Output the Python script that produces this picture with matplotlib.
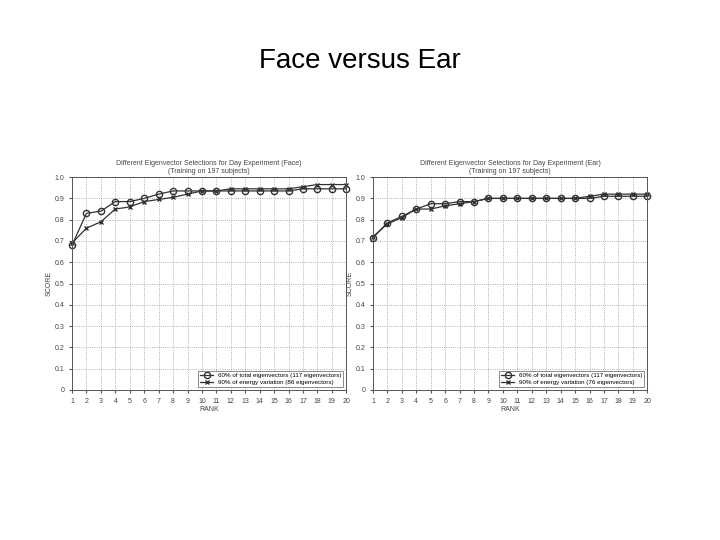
import matplotlib.pyplot as plt

plt.rcParams['font.family'] = ['Liberation Sans', 'DejaVu Sans']

rank = list(range(1, 21))

face_60 = [0.68, 0.83, 0.84, 0.885, 0.885, 0.90, 0.92, 0.935, 0.935, 0.935,
           0.935, 0.935, 0.935, 0.935, 0.935, 0.935, 0.945, 0.945, 0.945, 0.945]
face_90 = [0.69, 0.76, 0.79, 0.85, 0.86, 0.885, 0.895, 0.905, 0.92, 0.935,
           0.935, 0.945, 0.945, 0.945, 0.945, 0.945, 0.955, 0.965, 0.965, 0.965]
ear_60 = [0.715, 0.785, 0.815, 0.85, 0.875, 0.875, 0.885, 0.885, 0.90, 0.90,
          0.90, 0.90, 0.90, 0.90, 0.90, 0.90, 0.91, 0.91, 0.91, 0.91]
ear_90 = [0.72, 0.78, 0.81, 0.85, 0.85, 0.865, 0.875, 0.885, 0.90, 0.90,
          0.90, 0.90, 0.90, 0.90, 0.90, 0.91, 0.92, 0.92, 0.92, 0.92]

panels = [
    ("Face", face_60, face_90, "90% of energy variation (86 eigenvectors)", 0.100),
    ("Ear", ear_60, ear_90, "90% of energy variation (76 eigenvectors)", 0.518),
]

fig = plt.figure(figsize=(7.2, 5.4), dpi=100)
fig.text(0.5, 0.875, "Face versus Ear", ha="center", fontsize=20)

for name, s60, s90, lab90, left in panels:
    ax = fig.add_axes([left, 0.278, 0.381, 0.394])
    ax.plot(rank, s60, color="#333333", lw=0.9, marker="o", ms=4.5, mfc="none",
            label="60% of total eigenvectors (117 eigenvectors)", clip_on=False)
    ax.plot(rank, s90, color="#333333", lw=0.9, marker="x", ms=3.5,
            label=lab90, clip_on=False)
    ax.set_xlim(1, 20)
    ax.set_ylim(0, 1.0)
    ax.set_xticks(rank)
    ax.set_yticks([i / 10 for i in range(11)])
    ax.set_yticklabels(["0"] + [f"{i / 10:.1f}" for i in range(1, 11)])
    ax.tick_params(labelsize=5, length=2, color="#555555", labelcolor="#444444")
    ax.grid(True, linestyle=":", color="#999999", lw=0.6)
    ax.set_xlabel("RANK", fontsize=5, color="#444444", labelpad=1)
    ax.set_ylabel("SCORE", fontsize=5, color="#444444", labelpad=1)
    ax.set_title(f"Different Eigenvector Selections for Day Experiment ({name})\n"
                 "(Training on 197 subjects)", fontsize=5, color="#444444", pad=3)
    for sp in ax.spines.values():
        sp.set_color("#555555")
        sp.set_linewidth(0.7)
    leg = ax.legend(loc="lower right", fontsize=4.5, frameon=True, fancybox=False,
                    edgecolor="#555555", handlelength=2, borderpad=0.3,
                    labelspacing=0.2)
    leg.get_frame().set_linewidth(0.6)

fig.savefig("out.png", dpi=100)
